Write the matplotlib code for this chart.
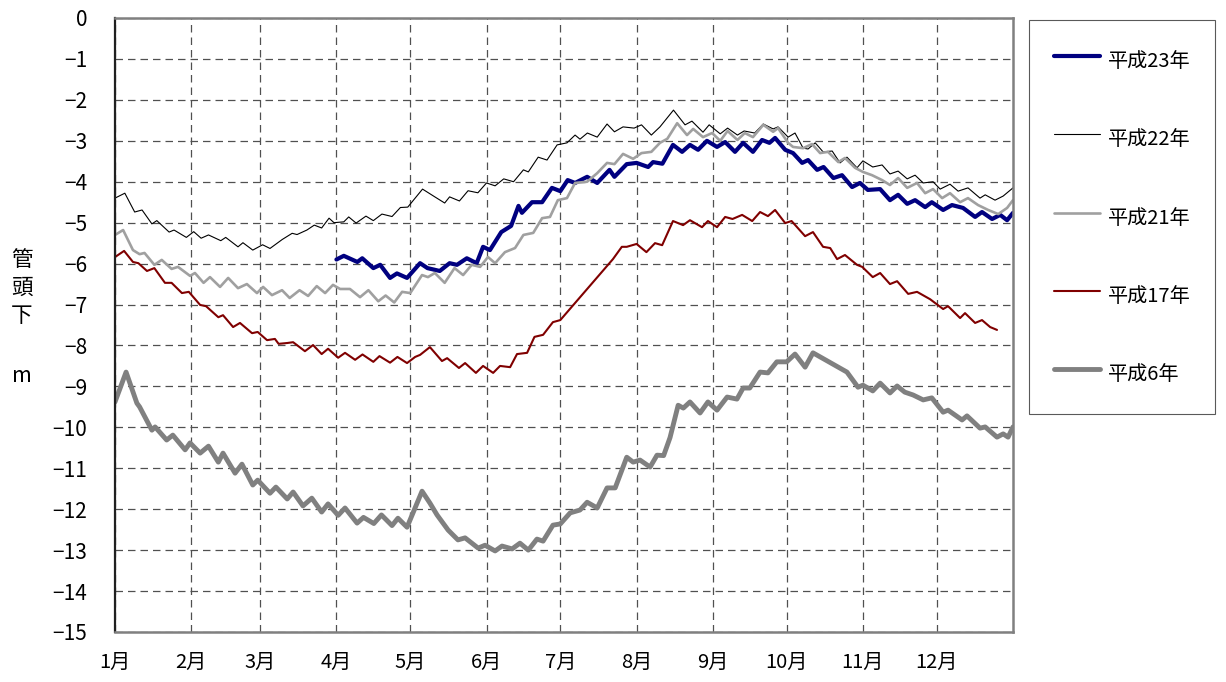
import matplotlib
matplotlib.use("Agg")
import matplotlib.pyplot as plt
import numpy as np

plt.rcParams['font.family'] = ['Noto Sans CJK JP', 'DejaVu Sans']

# 月の区切り（1月1日からの日数）と目盛ラベル
month_start = [0, 31, 59, 90, 120, 151, 181, 212, 243, 273, 304, 334]
month_labels = ["1月", "2月", "3月", "4月", "5月", "6月", "7月", "8月", "9月", "10月", "11月", "12月"]
y_ticks = list(range(0, -16, -1))

# 各年の水位（日, 管頭下 m）
h23 = [(90, -5.90), (93, -5.81), (98.5, -5.96), (100.5, -5.87), (105, -6.11), (107.8, -6.03),
       (111.8, -6.35), (114.6, -6.24), (118.7, -6.35), (124, -5.99), (127, -6.11), (132, -6.18),
       (136, -5.99), (139, -6.03), (143, -5.87), (147, -5.99), (149.6, -5.59), (152.4, -5.67),
       (157, -5.23), (161, -5.08), (164, -4.59), (165.4, -4.76), (169.5, -4.50), (173.6, -4.50),
       (177.6, -4.15), (181, -4.23), (184, -3.96), (187, -4.03), (191.9, -3.88), (196, -4.03),
       (201, -3.71), (203, -3.88), (208, -3.57), (212, -3.54), (216.7, -3.64), (218.7, -3.52),
       (222.5, -3.56), (226.8, -3.10), (230.5, -3.27), (233.7, -3.10), (237, -3.22), (240.6, -3.00),
       (244.7, -3.15), (248, -3.03), (252, -3.27), (255.3, -3.05), (259.3, -3.27), (263, -2.98),
       (266, -3.05), (268.3, -2.93), (272.4, -3.22), (275.6, -3.30), (279.3, -3.54), (281.7, -3.47),
       (285.4, -3.71), (288, -3.64), (292, -3.91), (295.5, -3.84), (299.6, -4.13), (302.8, -4.03),
       (306, -4.20), (311, -4.18), (315, -4.45), (318.3, -4.32), (322, -4.54), (325.2, -4.45),
       (329.3, -4.62), (332, -4.50), (336.6, -4.69), (340.2, -4.57), (344.7, -4.64), (349.6, -4.86),
       (352.4, -4.74), (356.5, -4.91), (359.8, -4.81), (362.6, -4.94), (365, -4.76)]

h22 = [(0, -4.40), (4, -4.28), (8, -4.74), (11, -4.69), (15, -5.03), (17, -4.95), (22, -5.23),
       (24, -5.18), (29, -5.36), (32, -5.22), (35, -5.38), (38, -5.30), (43, -5.44), (45, -5.36),
       (50, -5.59), (52, -5.49), (56, -5.67), (60, -5.54), (63, -5.63), (68, -5.41), (72, -5.26),
       (74, -5.29), (78, -5.18), (81, -5.06), (84, -5.13), (87, -4.89), (89, -5.00), (93, -4.98),
       (95, -4.86), (98, -5.01), (102, -4.84), (105, -4.95), (108.5, -4.79), (112.6, -4.85),
       (116, -4.63), (119, -4.62), (125, -4.18), (130, -4.37), (134, -4.52), (136, -4.37),
       (140, -4.47), (143.5, -4.22), (147.5, -4.27), (151, -4.03), (154.5, -4.10), (158, -3.93),
       (162, -4.00), (166, -3.71), (168, -3.76), (172, -3.40), (175.6, -3.47), (179.7, -3.10),
       (183.7, -3.05), (187, -2.86), (189, -2.96), (192, -2.81), (196, -2.91), (200, -2.59),
       (203, -2.78), (206.5, -2.66), (211, -2.69), (214, -2.61), (218, -2.86), (221.5, -2.66),
       (227, -2.25), (231.7, -2.61), (234.5, -2.52), (239, -2.79), (241.5, -2.61), (246, -2.83),
       (249, -2.69), (253, -2.86), (255.7, -2.76), (260, -2.81), (263.5, -2.59), (267.5, -2.71),
       (269.5, -2.66), (273.6, -2.91), (276.4, -2.81), (279.7, -3.18), (281.7, -3.20), (284.6, -3.05),
       (287.8, -3.27), (291.5, -3.25), (294.7, -3.54), (297.5, -3.40), (301.6, -3.66), (304, -3.49),
       (308, -3.64), (311.8, -3.59), (315, -3.81), (318.3, -3.74), (322, -3.93), (325.2, -3.84),
       (328.5, -4.03), (332.5, -4.00), (335.4, -4.18), (339.4, -4.06), (342.7, -4.23), (346.7, -4.15),
       (351.6, -4.40), (353.7, -4.32), (357.7, -4.45), (361, -4.35), (365, -4.15)]

h21 = [(0, -5.30), (3.3, -5.18), (7.3, -5.67), (10, -5.77), (12, -5.74), (16, -6.03), (19, -5.91),
       (23, -6.13), (25.6, -6.08), (30.5, -6.30), (32.5, -6.23), (36, -6.47), (38.6, -6.33),
       (42.7, -6.57), (46, -6.35), (50, -6.60), (53.6, -6.50), (57.7, -6.72), (60.2, -6.57),
       (63.8, -6.77), (67.9, -6.65), (71, -6.84), (75, -6.65), (78.5, -6.79), (82, -6.55),
       (85.4, -6.72), (88.6, -6.52), (91.5, -6.62), (95.5, -6.62), (99.6, -6.82), (103, -6.65),
       (107, -6.92), (110, -6.78), (113.5, -6.95), (116.7, -6.69), (120, -6.72), (124.8, -6.28),
       (127.2, -6.33), (130, -6.23), (134, -6.47), (138, -6.11), (141.5, -6.28), (145, -6.03),
       (148.4, -6.08), (151.6, -5.84), (154.5, -5.99), (158.5, -5.72), (162.6, -5.62), (166, -5.30),
       (170, -5.25), (173.6, -4.89), (176.8, -4.86), (180, -4.45), (183.7, -4.40), (187, -4.03),
       (191.9, -4.00), (196, -3.79), (200, -3.54), (203, -3.57), (206.5, -3.32), (210.6, -3.44),
       (214, -3.30), (218, -3.27), (221.5, -3.05), (224.5, -2.95), (228.5, -2.57), (232.5, -2.86),
       (235, -2.71), (239, -2.91), (242.7, -2.81), (246, -3.00), (249, -2.76), (253, -2.98),
       (256, -2.81), (259.3, -2.91), (263.5, -2.61), (267.5, -2.78), (269.5, -2.69), (273.6, -3.05),
       (275.6, -3.15), (279.7, -3.18), (283.3, -3.08), (286.6, -3.30), (289.8, -3.27), (294, -3.52),
       (296.7, -3.42), (300.8, -3.66), (304, -3.76), (307.7, -3.84), (311.8, -3.96), (315, -4.08),
       (318.3, -3.91), (322, -4.15), (326, -4.03), (329.3, -4.28), (332.5, -4.18), (336.2, -4.40),
       (339.4, -4.28), (343.5, -4.50), (346.7, -4.40), (350.8, -4.57), (354.9, -4.69), (359, -4.79),
       (362.6, -4.64), (365, -4.45)]

h17 = [(0, -5.84), (3.7, -5.69), (7.3, -5.96), (9.5, -5.99), (13, -6.18), (16, -6.11), (20.3, -6.47),
       (23, -6.47), (27.2, -6.72), (30, -6.69), (34.6, -7.01), (37, -7.04), (42, -7.31), (43.9, -7.26),
       (48, -7.55), (50.8, -7.45), (55.7, -7.70), (58, -7.67), (61.8, -7.87), (65, -7.84),
       (66.5, -7.96), (70, -7.94), (72.4, -7.92), (77.2, -8.14), (80.5, -7.99), (84, -8.21),
       (86.6, -8.08), (90.7, -8.30), (93.5, -8.18), (97.6, -8.35), (100.6, -8.22), (105, -8.40),
       (107.5, -8.26), (111.8, -8.42), (114.8, -8.28), (118.7, -8.43), (122, -8.28), (124, -8.23),
       (128, -8.04), (132.9, -8.38), (135, -8.31), (139.8, -8.55), (142.3, -8.43), (146.7, -8.67),
       (149.6, -8.50), (153.7, -8.67), (156.5, -8.50), (160.6, -8.53), (163.4, -8.21), (167.5, -8.18),
       (170.5, -7.79), (174, -7.74), (178, -7.43), (181, -7.38), (202.4, -5.89), (206, -5.59),
       (208, -5.59), (212, -5.52), (216, -5.72), (219.5, -5.50), (222.4, -5.55), (226.8, -4.96),
       (230.9, -5.06), (233.7, -4.94), (238.6, -5.11), (241, -4.96), (244.7, -5.11), (248, -4.86),
       (251, -4.91), (254.9, -4.81), (259, -4.96), (262.2, -4.74), (265.4, -4.84), (268.3, -4.69),
       (272.4, -5.01), (275, -4.96), (280.5, -5.33), (283.7, -5.23), (287.8, -5.59), (290.7, -5.62),
       (293.5, -5.89), (296.7, -5.79), (301.6, -6.03), (303.7, -6.08), (308, -6.33), (311, -6.23),
       (315, -6.50), (317.9, -6.43), (322.4, -6.74), (326, -6.69), (331.3, -6.87), (336.6, -7.11),
       (338.6, -7.04), (343.5, -7.33), (345.5, -7.21), (349.6, -7.45), (352.4, -7.38), (355.7, -7.55),
       (358.5, -7.62)]

h06 = [(0, -9.38), (4.5, -8.65), (8.9, -9.41), (10, -9.50), (15, -10.07), (16.3, -9.99), (21, -10.31),
       (23.5, -10.19), (28.5, -10.55), (30.5, -10.38), (34.6, -10.63), (38, -10.46), (42, -10.85),
       (43.9, -10.63), (48.8, -11.12), (51.6, -10.90), (56, -11.41), (58, -11.29), (63, -11.61),
       (65.4, -11.46), (70, -11.75), (72.4, -11.58), (76.4, -11.92), (80, -11.73), (84, -12.07),
       (86.6, -11.87), (90.7, -12.15), (93.5, -11.97), (98.4, -12.34), (101, -12.20), (105.2, -12.35),
       (108.3, -12.14), (112.6, -12.40), (115, -12.22), (118.7, -12.44), (124.8, -11.56), (128, -11.85),
       (130.9, -12.14), (135.4, -12.51), (139.4, -12.75), (142.3, -12.70), (147.6, -12.95),
       (150.4, -12.88), (154.5, -13.02), (157.3, -12.90), (161.4, -12.97), (164.6, -12.83),
       (168, -13.00), (171.5, -12.73), (174, -12.78), (178, -12.39), (181, -12.36), (185, -12.09),
       (189, -12.02), (191.9, -11.83), (196, -11.97), (200, -11.48), (203.3, -11.48), (208, -10.73),
       (210.6, -10.85), (213.4, -10.80), (217.5, -10.97), (220.3, -10.68), (223, -10.69),
       (225.6, -10.25), (228.9, -9.46), (231, -9.53), (233.7, -9.38), (237.8, -9.65), (241, -9.38),
       (244.7, -9.58), (248.8, -9.26), (252.8, -9.31), (255.3, -9.04), (258, -9.04), (262.2, -8.65),
       (265.4, -8.67), (269, -8.40), (273, -8.40), (276.4, -8.21), (280.5, -8.53), (283.7, -8.18),
       (297.5, -8.65), (302, -9.02), (304, -8.97), (308, -9.11), (311, -8.92), (315, -9.16),
       (317.9, -8.99), (321, -9.14), (324.4, -9.21), (328.5, -9.33), (332, -9.28), (336.6, -9.63),
       (338.6, -9.58), (344.3, -9.82), (346.3, -9.72), (351.6, -10.02), (353.7, -9.99),
       (358.5, -10.24), (361, -10.16), (363, -10.24), (365, -9.99)]

series = [
    ("平成23年", h23, "#000080", 3.0),
    ("平成22年", h22, "#000000", 0.8),
    ("平成21年", h21, "#a0a0a0", 1.9),
    ("平成17年", h17, "#800000", 1.5),
    ("平成6年", h06, "#808080", 3.5),
]

fig = plt.figure(figsize=(12.26, 6.82), dpi=100)
ax = fig.add_axes([115 / 1226, 1 - 632 / 682, 898 / 1226, 614 / 682])

for label, pts, color, lw in series:
    d = np.array(pts)
    ax.plot(d[:, 0], d[:, 1], color=color, lw=lw, label=label,
            solid_joinstyle="round", solid_capstyle="round")

ax.set_xlim(0, 365)
ax.set_ylim(-15, 0)
ax.set_xticks(month_start)
ax.set_xticklabels(month_labels, fontsize=14.5)
ax.set_yticks(y_ticks)
ax.set_yticklabels([str(v).replace("-", "\u2212") for v in y_ticks], fontsize=15)
ax.tick_params(axis="both", length=0)
ax.tick_params(axis="x", pad=14)
ax.tick_params(axis="y", pad=20)

# 破線のグリッド
ax.grid(True, color="#505050", linestyle=(0, (6, 4)), linewidth=0.9)
ax.set_axisbelow(True)

for side in ["top", "right", "bottom"]:
    ax.spines[side].set_color("#808080")
    ax.spines[side].set_linewidth(1.8)
ax.spines["left"].set_color("#202020")
ax.spines["left"].set_linewidth(1.6)

# 縦書きの軸ラベル
for ch, ypx in zip(["管", "頭", "下", "m"], [260, 288, 316, 376]):
    fig.text(22 / 1226, 1 - ypx / 682, ch, fontsize=15.5, ha="center", va="center")

leg = fig.legend(loc="upper left", bbox_to_anchor=(1029 / 1226, 1 - 20 / 682),
                 fontsize=14.5, frameon=True, fancybox=False, borderpad=1.25,
                 labelspacing=2.34, handlelength=2.3, handleheight=2.0,
                 handletextpad=0.35, borderaxespad=0)
leg.get_frame().set_edgecolor("#303030")
leg.get_frame().set_linewidth(0.8)

fig.savefig("out.png", dpi=100)
